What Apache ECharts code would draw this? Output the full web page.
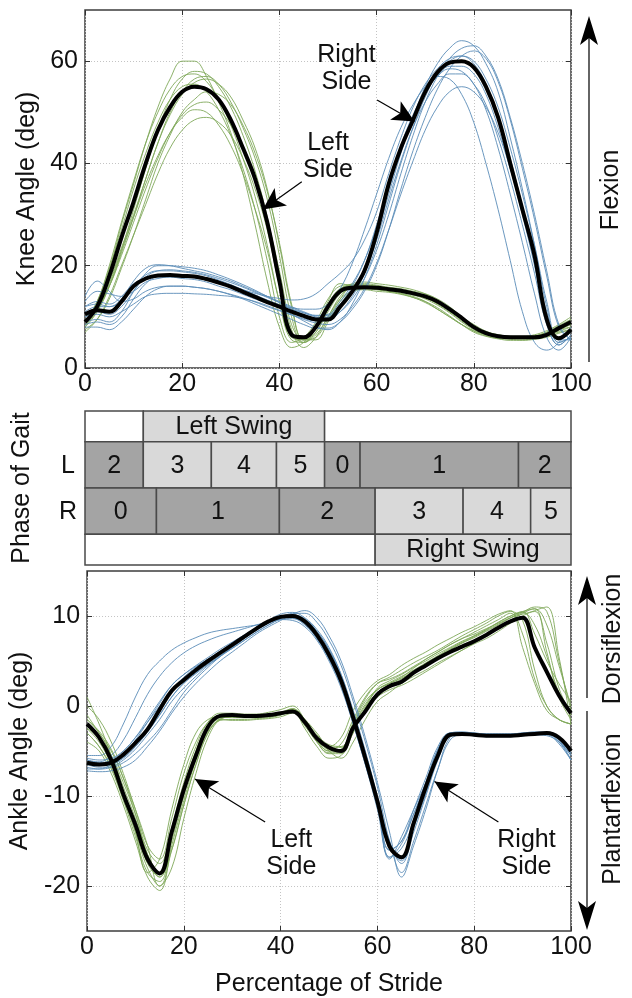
<!DOCTYPE html>
<html><head><meta charset="utf-8">
<script src="https://cdn.jsdelivr.net/npm/echarts@6/dist/echarts.min.js"></script>
<style>html,body{margin:0;padding:0;background:#fff}#c{width:632px;height:998px}</style>
</head><body><div id="c"></div>
<script>
// ---------------- DATA ----------------
const stride = [0,2.5,5,7.5,10,12.5,15,17.5,20,22.5,25,27.5,30,32.5,35,37.5,40,42.5,45,47.5,50,52.5,55,57.5,60,62.5,65,67.5,70,72.5,75,77.5,80,82.5,85,87.5,90,92.5,95,97.5,100];
const xTicks = [0,20,40,60,80,100];
const kneeTicks = [0,20,40,60];
const ankleTicks = [-20,-10,0,10];

const kneeLeftMean  = [9,12,18,25.5,32.5,40,46.5,51,54,55,54.5,52.5,48.5,43,37,28.5,17,6.5,6,8,12,15,15.7,15.8,15.7,15.4,15.1,14.6,14,13,11.5,9.8,8,6.8,6.2,6,6,6,6.5,7.8,9];
const kneeRightMean = [10.5,11.3,11,13,16,17.5,18.1,18.2,18,17.9,17.4,16.7,15.9,14.9,13.9,12.9,12,11,10.2,9.5,9.5,12,15,19,26.4,36,43,48.5,54,57.8,59.7,60,58.8,55,49,40,31,22,9.5,5.8,7.5];
const ankleLeftMean  = [-2,-3.5,-6,-9.8,-13.2,-17,-18.6,-14,-9.3,-5.5,-2.3,-1.1,-1,-1.1,-1.1,-1,-0.8,-0.6,-1.8,-3.6,-4.6,-5,-2.4,-0.6,1.3,2.2,2.7,3.7,4.5,5.3,6,6.6,7.2,7.9,8.7,9.4,9.8,6.5,3.8,1.2,-0.8];
const ankleRightMean = [-6.3,-6.5,-6.3,-5.4,-4.1,-2.6,-0.4,1.7,2.9,4,5,5.9,6.8,7.7,8.6,9.4,9.9,10,9.4,7.9,5.7,2.8,-1.3,-5.8,-10.6,-15.6,-16.8,-13,-9,-5.5,-3.2,-3.1,-3.2,-3.3,-3.3,-3.3,-3.2,-3.1,-3,-3.5,-5];

const kneeLeftTrials = [
 [8,12,19,28,36,44,51,56.5,60,60,57,52,46,38,28,17,8,4,5,8,13,16.5,16,15.8,15.3,15,14.6,14,13,11.5,10,8.5,7.2,6.3,5.8,5.6,5.5,5.8,6.5,7.5,8],
 [10,12.5,17,23.5,30,37,44,50,54,56.5,57,55.5,52,47,41,33,22,10,5,6.5,10,14,16,16.5,16.2,15.8,15.5,15,14.5,13.5,12,10,8.2,7,6.3,6,6,6.2,7,8,9.5],
 [7,9.5,14,20,26,32,38,43,46.5,48.5,49,48,45.5,41,35,27,16,7,5,7,11,14.5,15.5,15.5,15.4,15,14.5,13.8,12.8,11.5,10,8.5,7.3,6.5,6,5.8,5.7,5.8,6.2,7,7.5],
 [9,13,19.5,27,35,42,48,52.5,55,55.5,54,50.5,45.5,39,31,21,10,5,6,9,13.5,16,16.3,16,15.8,15.5,15,14.3,13.5,12.3,10.8,9,7.5,6.5,6,5.8,5.8,6,6.5,7.5,8.5],
 [10,12,16,22,28.5,35,41,46,49.5,51.5,52,50.5,47.5,43,37,29,19,8.5,5.5,7,11.5,15,16.5,16.8,16.5,16.2,15.8,15.3,14.5,13.3,11.5,9.5,8,7,6.5,6.2,6.2,6.5,7.3,8.5,10],
 [8.5,11,16,23,31,39,46.5,52.5,56.5,58,57.5,55,51,45.5,38.5,29.5,18,7.5,4,6,10,13.5,15,15.3,15,14.8,14.4,13.8,13,11.8,10.2,8.5,7,6.2,5.7,5.4,5.4,5.6,6,6.8,7.5],
 [9.5,11.5,16,22.5,29.5,37,44,49.5,53.5,55.8,56.5,55.5,53,48.5,43,35,24,12,5.5,6,9.5,13.5,16,16.3,16,15.7,15.3,14.8,14.2,13.2,11.8,10,8.5,7.2,6.5,6.2,6.1,6.3,7,8.3,9.5],
 [8,11,16.5,23,29.5,36,41.5,46,49,50.5,50,47.5,43.5,38,31,23,13,6,5.5,8,12.5,15.5,16,15.8,15.6,15.3,15,14.5,13.8,12.8,11.2,9.5,8,7,6.4,6.1,6,6.1,6.6,7.6,8.5],
 [9,13,20,28.5,36.5,44,50,54.5,57,57.5,56,52.5,47.5,41,33.5,24,13,5.5,5,8,12.5,15.5,16.2,16.2,16,15.6,15.2,14.6,13.8,12.5,11,9.2,7.7,6.7,6.1,5.9,5.9,6.1,6.7,7.7,8.8],
 [7.5,9.5,13.5,19.5,26,33,40,45.5,50,52.5,54,53.5,51.5,47.5,42,34.5,24.5,12.5,5.5,5.5,9,13,15,15.5,15.4,15.1,14.8,14.3,13.7,12.7,11.3,9.6,8,6.9,6.3,6,5.9,6,6.4,7.2,8]
];
const kneeRightTrials = [
 [9,9.5,9,11,15,18.5,20,20,19.8,19.5,19,18.2,17.3,16.3,15.2,14,12.8,11.5,10.5,9.8,10,12,15,19.5,26,34,42,49,55,59.5,62.5,64,63,59.5,54,45,35,24,12,5,6],
 [12,13,12.5,14,16.5,17.5,17.8,17.8,17.5,17.3,16.8,16,15.3,14.4,13.5,12.7,12.2,11.8,11.5,11.5,12.5,15.5,20.5,27,34,41,47,51.5,55,57,56.5,53.5,48,40,31,21,11,5,3.5,5,8],
 [8,8,7.5,9,11.5,14,15.5,16,16,15.8,15.5,15,14.3,13.5,12.5,11.5,10.5,9.5,8.5,7.8,7.8,9,11.5,15,20,27,35,42.5,49,54.5,58.5,61,62,60.5,56,48.5,39,29,18,8,5.5],
 [11,12,12,13.5,17,19.5,20.2,20,19.5,19,18.5,17.8,17,16,15,14,13,12,11,10.3,10.5,13,16.5,21,28,36,43.5,49.5,54,57,59,59,57.5,53.5,47,39,30,20,9,4.5,6.5],
 [10,10.5,10,11,12.5,14,14.5,14.6,14.6,14.5,14.4,14.2,14,13.6,13,12.2,11.3,10.4,9.5,8.8,8.5,9.5,12,15.5,20.5,27,34,40.5,46.5,51,54,55,54,51,46,39,30.5,21,11,5,6],
 [13,15,14.5,14,15,16.8,17.5,17.8,17.8,17.6,17.2,16.6,16,15.3,14.6,14,13.6,13.3,13.5,14.5,16.5,18.5,21,25,30.5,38,45,51,55.5,58.5,60.5,61,59.5,55.5,49.5,41,31.5,20.5,10,5.5,7],
 [10,11,10.5,12,15,17.8,19,19.2,19,18.7,18.2,17.5,16.7,15.8,14.8,13.8,12.8,11.8,10.8,10,9.8,11,13.5,17.5,23,30,38,45.5,52,57,60.5,62.5,63,61,56.5,49,40,30,19,8.5,5.5],
 [14,17,15,13,13.5,15,15.8,16,16,15.8,15.5,15,14.4,13.7,12.9,12,11.2,10.4,9.7,9.2,9.3,11,14,18.5,25,33,40.5,47,52,55.5,57.5,57.5,55.5,51.5,45,37,28,18.5,8.5,4.5,6.5],
 [8.5,9,8.5,10,13.5,16.5,18,18.3,18.2,18,17.6,17,16.2,15.2,14.2,13,11.8,10.5,9.2,8,7.5,9,12.5,17.5,24,32,40,47,53,57.5,60,61,60,56.5,51,43,34,24,13,5.5,5.5],
 [12,12.5,12,13,16,18.2,19,19,18.8,18.5,18,17.2,16.3,15.3,14.3,13.3,12.4,11.5,10.8,10.2,10.3,12.5,16,21,27.5,35,42.5,49,54,57,58.5,58,55.5,50.5,43,34,24.5,14.5,6,3.5,6]
];
const ankleLeftTrials = [
 [1,-2,-5.5,-9.5,-14,-18.5,-17,-11.5,-6.5,-3,-1.5,-1.2,-1.3,-1.3,-1.2,-1.1,-0.9,-0.6,-1.5,-3,-4.5,-3.5,-0.5,1.5,2.8,3.5,4.5,5.3,6,6.8,7.5,8.2,8.8,9.5,10.2,10.6,6.5,2.5,-0.5,-1.5,-2],
 [-1,-3,-5,-8,-11.5,-15.5,-20,-18,-12.5,-7.5,-3.5,-1.5,-1.2,-1.2,-1.1,-1,-0.8,-0.3,-1.5,-3.5,-5,-5.8,-4,-1.5,0.5,1.5,2.5,3.3,4,4.8,5.5,6.2,7,7.8,8.7,9.5,10.3,10.8,9,4.5,0],
 [-3,-4.5,-7,-10.5,-14.5,-18.5,-19.5,-15,-10,-5.5,-2.5,-1.5,-1.6,-1.6,-1.5,-1.4,-1.2,-0.8,-2,-4,-5.2,-5,-2.5,-0.2,2,2.8,3.5,4.3,5,5.8,6.5,7.2,7.8,8.5,9.3,10,10.5,8,5,2.5,0.5],
 [-2.5,-3.5,-5.5,-8.5,-12,-16,-17.5,-13.5,-8.5,-4.5,-1.8,-0.8,-0.8,-0.9,-0.9,-0.7,-0.4,0,-1.5,-3.2,-4.3,-4.5,-2,0.5,1.8,2.5,3.2,4.2,5.2,6,6.8,7.5,8,8.6,9.2,9.8,10.2,10.5,7,2,-1],
 [-1.5,-2.8,-4.8,-8,-12,-16.5,-19,-16,-11,-6.5,-3,-1.5,-1.2,-1.3,-1.3,-1.2,-1,-0.6,-2.5,-4.5,-5.8,-5.5,-3,-0.5,1,1.8,2.3,3,3.8,4.6,5.4,6.2,6.9,7.5,8.3,9.2,10,10.6,11,5.5,-2],
 [-4,-5,-7.5,-11,-15,-19,-20.5,-15.5,-10.5,-6,-2.8,-1.6,-1.5,-1.5,-1.4,-1.3,-1,-0.4,-2,-3.8,-5,-4.8,-1.8,0.8,2.5,3.2,4,4.8,5.5,6.2,7,7.8,8.5,9.2,10,10.5,9.5,4,0,-1.5,-2],
 [-2.5,-4,-6.5,-10,-13.5,-17.5,-19,-14.5,-9.5,-5.5,-2.5,-1.3,-1.2,-1.2,-1.2,-1.1,-0.9,-0.5,-2.2,-4,-5.3,-5.3,-2.8,-0.3,1.5,2.3,3,3.8,4.6,5.4,6.2,7,7.6,8.3,9,9.8,10.5,10.8,6,1,-1.5],
 [0,-1.5,-4,-7.5,-11.5,-15.5,-17,-12.5,-7.5,-4,-1.8,-1,-0.9,-1,-1,-0.9,-0.7,-0.3,-1.8,-3.5,-4.8,-4.2,-1.5,1,2.5,3,3.6,4.4,5.2,6,6.8,7.5,8.2,8.9,9.6,10.3,8,3,0,-1.5,-2],
 [-3,-4.5,-6.8,-10.3,-14,-18,-20,-16,-11,-6.5,-3,-1.4,-1.1,-1.1,-1.1,-1,-0.8,-0.4,-2,-3.8,-5,-5,-2.2,0.2,1.8,2.5,3.1,3.9,4.7,5.5,6.3,7,7.7,8.4,9.1,9.8,10.4,11,10.5,5,-0.5],
 [-1.5,-3,-5.5,-9,-12.5,-16.5,-18.5,-14,-9,-5,-2.2,-1.2,-1.1,-1.2,-1.2,-1.1,-0.8,-0.4,-1.8,-3.4,-4.5,-4.6,-2.2,0,1.8,2.6,3.3,4,4.8,5.6,6.4,7.1,7.8,8.5,9.3,10,10.4,9,5.5,1.5,-1]
];
const ankleRightTrials = [
 [-5.5,-5.5,-4.5,-2,1,3.5,5,6.2,7,7.6,8.1,8.4,8.6,8.8,9,9.3,9.6,9.5,8.8,7.3,5,2,-2,-6.5,-11,-16,-15,-11.5,-8,-4.5,-3,-3,-3.1,-3.2,-3.2,-3.2,-3.1,-3,-3,-3.8,-5.5],
 [-6.8,-7,-6.8,-6,-4.8,-3.2,-1.5,0.5,2,3.3,4.5,5.5,6.5,7.5,8.5,9.5,10.2,10.4,9.8,8.5,6.5,3.5,-0.5,-5,-10,-15,-17.5,-14,-10,-6,-3.4,-3.2,-3.3,-3.4,-3.4,-3.4,-3.3,-3.2,-3.3,-4,-5.5],
 [-6.5,-6.8,-6.8,-6.3,-5.3,-4,-2.5,-0.5,1.5,3,4.3,5.5,6.6,7.6,8.5,9.2,9.8,10.3,10.3,9.3,7.3,4.5,0.5,-4,-9,-15,-18.5,-15,-11,-7,-3.8,-3.2,-3.3,-3.4,-3.4,-3.4,-3.3,-3.2,-3.2,-4.2,-6],
 [-6,-6.3,-6,-5,-3.5,-1.5,0.5,2.3,3.5,4.5,5.4,6.3,7.1,7.9,8.7,9.4,9.9,9.8,9.1,7.5,5.2,2.2,-2,-6.5,-11.5,-17,-14.5,-11.5,-8.5,-4.8,-3,-2.9,-3,-3.1,-3.1,-3.1,-3,-2.9,-2.9,-3.5,-4.8],
 [-6.5,-6.6,-6.5,-5.8,-4.5,-2.8,-1,1,2.6,3.7,4.7,5.6,6.4,7.3,8.2,9,9.6,9.7,9,7.5,5.3,2.5,-1.5,-6,-11,-15.8,-17,-13,-9.5,-5.5,-3.2,-3.2,-3.3,-3.4,-3.4,-3.4,-3.3,-3.2,-3.1,-3.6,-5],
 [-7,-7,-6.5,-5.5,-3.8,-1.8,0.3,2.3,3.5,4.4,5.2,6,6.8,7.6,8.4,9.2,9.8,9.9,9.5,8.3,6.3,3.5,-0.8,-5.2,-10.3,-16.8,-15.8,-12.8,-9,-5.2,-3.1,-3,-3.1,-3.2,-3.2,-3.2,-3.1,-3,-3,-3.8,-6],
 [-6,-6.2,-5.5,-3.8,-1.3,1.3,3.3,4.8,5.9,6.7,7.3,7.8,8.2,8.6,9,9.4,9.8,9.8,9.2,7.8,5.7,2.7,-1.5,-6,-10.8,-16,-15,-12,-8.5,-4.8,-3.1,-3,-3.1,-3.2,-3.2,-3.2,-3.1,-3,-3,-3.7,-5.3],
 [-6.3,-6.5,-6.4,-5.7,-4.5,-2.9,-1,1,2.5,3.6,4.6,5.5,6.4,7.3,8.2,9,9.7,10.1,9.7,8.3,6.2,3.3,-0.8,-5.3,-10.2,-15.5,-17.2,-13.5,-9.8,-5.8,-3.3,-3.1,-3.2,-3.3,-3.3,-3.3,-3.2,-3.1,-3.1,-3.7,-5.2],
 [-7.2,-7.3,-7.2,-6.8,-6,-4.5,-2.8,-0.8,1,2.5,3.8,5,6,7,8,8.8,9.5,10.2,10.6,9.8,7.8,5,1,-3.5,-8.5,-14,-19,-15.5,-11.5,-7,-3.5,-3.1,-3.2,-3.3,-3.3,-3.3,-3.2,-3.1,-3.1,-4,-6],
 [-5.8,-6,-5.8,-5,-3.5,-1.8,0,1.8,3.2,4.3,5.2,6.1,7,7.8,8.6,9.4,10,10.1,9.6,8,5.8,3,-1,-5.5,-10.5,-16.8,-15.3,-12,-8.8,-5,-3,-2.9,-3,-3.1,-3.1,-3.1,-3,-2.9,-2.9,-3.4,-4.8]
];

// Phase of gait table
const leftPhaseEdges  = [0,12,26,39.4,49.3,56.6,89.2,100];
const leftPhaseNums   = ['2','3','4','5','0','1','2'];
const rightPhaseEdges = [0,14.7,40,59.7,77.8,91.7,100];
const rightPhaseNums  = ['0','1','2','3','4','5'];
const leftSwing  = [12,49.3];
const rightSwing = [59.7,100];

// ---------------- STYLE ----------------
const FONT = '"Liberation Sans", Arial, Helvetica, sans-serif';
const FS = 25;
const GREEN = '#7fa85a', BLUE = '#5b8db8';
const DARK = '#a4a4a4', LIGHT = '#d9d9d9', BORDER = '#4a4a4a';
const G = {left:85, width:486};

const chart = echarts.init(document.getElementById('c'), null, {renderer:'canvas'});

function ln(vals, xi, yi, color, width, z, opacity) {
  return {type:'line', xAxisIndex:xi, yAxisIndex:yi, data: stride.map((x,i)=>[x, vals[i]]),
    showSymbol:false, smooth:0.4, silent:true, animation:false, z:z,
    lineStyle:{color:color, width:width, opacity:opacity==null?1:opacity}};
}
function note(text, at, from, to) {
  return {
    markLine:{silent:true, animation:false, symbol:['none','arrow'], symbolSize:[16,22],
      lineStyle:{color:'#000', width:1.2, type:'solid'}, label:{show:false},
      data:[[{coord:from},{coord:to}]]},
    markPoint:{silent:true, animation:false, symbol:'rect', symbolSize:1, itemStyle:{color:'rgba(0,0,0,0)'},
      label:{show:true, position:'inside', formatter:text, fontSize:FS, lineHeight:27, color:'#111', fontFamily:FONT},
      data:[{coord:at}]}
  };
}

const series = [];
kneeLeftTrials.forEach(t=>series.push(ln(t,0,0,GREEN,1,2,0.9)));
kneeRightTrials.forEach(t=>series.push(ln(t,0,0,BLUE,1,3,0.9)));
ankleLeftTrials.forEach(t=>series.push(ln(t,3,3,GREEN,1,2,0.9)));
ankleRightTrials.forEach(t=>series.push(ln(t,3,3,BLUE,1,3,0.9)));
series.push(Object.assign(ln(kneeLeftMean,0,0,'#000',4,5), note('Left\nSide',[50,41.4],[44.6,36.4],[36.6,31])));
series.push(Object.assign(ln(kneeRightMean,0,0,'#000',4,5), note('Right\nSide',[53.8,58.6],[60.1,52.4],[67.8,48.2])));
series.push(Object.assign(ln(ankleLeftMean,3,3,'#000',4,5), note('Left\nSide',[42.2,-16.4],[36.8,-12.9],[22.3,-8.1])));
series.push(Object.assign(ln(ankleRightMean,3,3,'#000',4,5), note('Right\nSide',[90.8,-16.4],[85,-12.9],[71.8,-8.4])));

// table cells: [x0, x1, row, label, kind]
const cells = [];
const rowsY = {LS:[8,10], L:[5,8], R:[2,5], RS:[0,2]};
function dark(n){ return ['0','1','2'].indexOf(n) >= 0; }
cells.push([0, leftSwing[0], 'LS', '', 'white']);
cells.push([leftSwing[0], leftSwing[1], 'LS', 'Left Swing', 'light']);
cells.push([leftSwing[1], 100, 'LS', '', 'white']);
leftPhaseNums.forEach((n,i)=>cells.push([leftPhaseEdges[i], leftPhaseEdges[i+1], 'L', n, dark(n)?'dark':'light']));
rightPhaseNums.forEach((n,i)=>cells.push([rightPhaseEdges[i], rightPhaseEdges[i+1], 'R', n, dark(n)?'dark':'light']));
cells.push([0, rightSwing[0], 'RS', '', 'white']);
cells.push([rightSwing[0], rightSwing[1], 'RS', 'Right Swing', 'light']);
const fills = {white:'#ffffff', light:LIGHT, dark:DARK};

series.push({
  type:'custom', xAxisIndex:2, yAxisIndex:2, silent:true, animation:false,
  data: cells.map(c=>[c[0], c[1], rowsY[c[2]][0], rowsY[c[2]][1]]),
  renderItem: function(params, api){
    const c = cells[params.dataIndex];
    const p0 = api.coord([api.value(0), api.value(3)]);
    const p1 = api.coord([api.value(1), api.value(2)]);
    const children = [{type:'rect', shape:{x:p0[0], y:p0[1], width:p1[0]-p0[0], height:p1[1]-p0[1]},
      style:{fill:fills[c[4]], stroke:BORDER, lineWidth:1.5}}];
    if (c[3]) children.push({type:'text', style:{text:c[3], x:(p0[0]+p1[0])/2, y:(p0[1]+p1[1])/2+1,
      align:'center', verticalAlign:'middle', fontSize:FS, fontFamily:FONT, fill:'#111'}});
    if (c[0] === 0 && (c[2]==='L' || c[2]==='R')) children.push({type:'text', style:{text:c[2], x:p0[0]-17, y:(p0[1]+p1[1])/2+1,
      align:'center', verticalAlign:'middle', fontSize:FS, fontFamily:FONT, fill:'#111'}});
    return {type:'group', children:children};
  }
});

const splitDotted = {show:true, lineStyle:{color:'#c4c4c4', type:[1,2], width:1}};
const lbl = {color:'#111', fontSize:FS, fontFamily:FONT};
const noLine = {show:false, onZero:false};
function xMain(grid, name) {
  return {type:'value', gridIndex:grid, min:0, max:100, interval:20, position:'bottom',
    axisLine:noLine, axisTick:{show:true, inside:true, length:5, lineStyle:{color:'#333'}},
    axisLabel:Object.assign({show:true, margin:4, customValues:xTicks}, lbl),
    splitLine:splitDotted,
    name:name||'', nameLocation:'middle', nameGap:41, nameTextStyle:lbl};
}
function xTop(grid) {
  return {type:'value', gridIndex:grid, min:0, max:100, interval:20, position:'top',
    axisLine:noLine, axisTick:{show:true, inside:true, length:5, lineStyle:{color:'#333'}},
    axisLabel:{show:false}, splitLine:{show:false}};
}
function yMain(grid, min, max, ticks, name) {
  return {type:'value', gridIndex:grid, min:min, max:max, position:'left',
    axisLine:noLine, axisTick:{show:true, inside:true, length:5, customValues:ticks, lineStyle:{color:'#333'}},
    axisLabel:Object.assign({show:true, margin:7, customValues:ticks}, lbl),
    splitLine:splitDotted,
    name:name, nameLocation:'middle', nameGap:44, nameRotate:90, nameTextStyle:lbl};
}
function yRight(grid, min, max, ticks) {
  return {type:'value', gridIndex:grid, min:min, max:max, position:'right',
    axisLine:noLine, axisTick:{show:true, inside:true, length:5, customValues:ticks, lineStyle:{color:'#333'}},
    axisLabel:{show:false, customValues:ticks}, splitLine:{show:false}};
}

const option = {
  animation:false,
  backgroundColor:'#ffffff',
  textStyle:{fontFamily:FONT},
  grid:[
    {left:G.left, width:G.width, top:10, height:358, show:true, borderColor:'#3c3c3c', borderWidth:1.5, backgroundColor:'transparent'},
    {left:G.left, width:G.width, top:411, height:154, show:false},
    {left:G.left, width:G.width, top:571, height:361, show:true, borderColor:'#3c3c3c', borderWidth:1.5, backgroundColor:'transparent'}
  ],
  xAxis:[
    xMain(0),
    xTop(0),
    {type:'value', gridIndex:1, min:0, max:100, show:false},
    xMain(2, 'Percentage of Stride'),
    xTop(2)
  ],
  yAxis:[
    yMain(0, 0, 70, kneeTicks, 'Knee Angle (deg)'),
    yRight(0, 0, 70, kneeTicks),
    {type:'value', gridIndex:1, min:0, max:10, axisLine:noLine, axisTick:{show:false}, axisLabel:{show:false}, splitLine:{show:false},
      name:'Phase of Gait', nameLocation:'middle', nameGap:50, nameRotate:90, nameTextStyle:lbl},
    yMain(2, -25, 15, ankleTicks, 'Ankle Angle (deg)'),
    yRight(2, -25, 15, ankleTicks)
  ],
  series:series,
  graphic:[
    {type:'line', shape:{x1:589, y1:362, x2:589, y2:36}, style:{stroke:'#111', lineWidth:1.3}, silent:true},
    {type:'polygon', shape:{points:[[589,16],[580,45],[589,38],[598,45]]}, style:{fill:'#000'}, silent:true},
    {type:'text', x:611, y:190, rotation:Math.PI/2, style:{text:'Flexion', align:'center', verticalAlign:'middle', fontSize:FS, fontFamily:FONT, fill:'#111'}, silent:true},
    {type:'line', shape:{x1:587, y1:698, x2:587, y2:595}, style:{stroke:'#111', lineWidth:1.3}, silent:true},
    {type:'polygon', shape:{points:[[587,576],[578,605],[587,598],[596,605]]}, style:{fill:'#000'}, silent:true},
    {type:'line', shape:{x1:587, y1:711, x2:587, y2:912}, style:{stroke:'#111', lineWidth:1.3}, silent:true},
    {type:'polygon', shape:{points:[[587,930],[578,901],[587,908],[596,901]]}, style:{fill:'#000'}, silent:true},
    {type:'text', x:613, y:639, rotation:Math.PI/2, style:{text:'Dorsiflexion', align:'center', verticalAlign:'middle', fontSize:FS, fontFamily:FONT, fill:'#111'}, silent:true},
    {type:'text', x:613, y:809, rotation:Math.PI/2, style:{text:'Plantarflexion', align:'center', verticalAlign:'middle', fontSize:FS, fontFamily:FONT, fill:'#111'}, silent:true}
  ]
};
chart.setOption(option);
</script></body></html>
